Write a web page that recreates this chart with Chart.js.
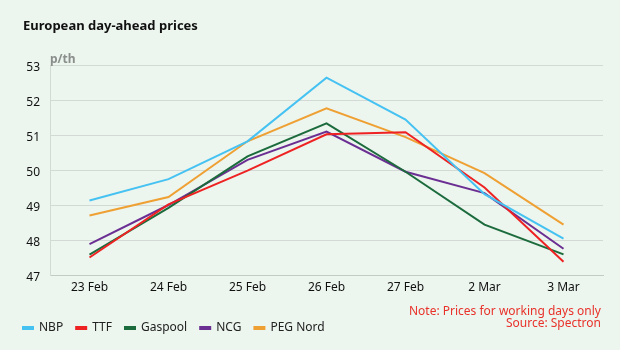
<!DOCTYPE html>
<html>
<head>
<meta charset="utf-8">
<script src="https://cdn.jsdelivr.net/npm/chart.js@4"></script>
<style>
  html, body { margin: 0; padding: 0; background: #ecf5ee; }
  #wrap { position: relative; width: 620px; height: 350px; background: #ecf5ee; font-family: "Noto Sans", "Open Sans", sans-serif; }
  #title { position: absolute; left: 23px; top: 16px; font-size: 13px; font-weight: bold; color: #111; }
  #unit { position: absolute; left: 50px; top: 50px; font-size: 12px; font-weight: bold; color: #8a8f8c; }
  #note { position: absolute; right: 19px; top: 305px; font-size: 12px; color: #e8322a; text-align: right; line-height: 12px; }
  canvas { position: absolute; left: 0; top: 0; }
</style>
</head>
<body>
<div id="wrap">
  <canvas id="c" width="620" height="350"></canvas>
  <div id="title">European day-ahead prices</div>
  <div id="unit">p/th</div>
  <div id="note">Note: Prices for working days only<br>Source: Spectron</div>
</div>
<script>
const categories = ["23 Feb", "24 Feb", "25 Feb", "26 Feb", "27 Feb", "2 Mar", "3 Mar"];
const nbp      = [49.13, 49.74, 50.82, 52.64, 51.44, 49.31, 48.04];
const ttf      = [47.50, 49.02, 49.98, 51.02, 51.08, 49.50, 47.38];
const gaspool  = [47.58, 48.92, 50.39, 51.33, 49.95, 48.44, 47.59];
const ncg      = [47.88, 49.00, 50.29, 51.10, 49.95, 49.34, 47.75];
const pegNord  = [48.70, 49.23, 50.82, 51.76, 50.94, 49.91, 48.44];
const yTicks   = [47, 48, 49, 50, 51, 52, 53];

function ds(label, data, color) {
  return { label, data, borderColor: color, backgroundColor: color, borderWidth: 2,
           pointRadius: 0, pointHoverRadius: 0, tension: 0, fill: false };
}

new Chart(document.getElementById('c'), {
  type: 'line',
  data: {
    labels: categories,
    datasets: [
      ds('NBP', nbp, '#45c2f2'),
      ds('TTF', ttf, '#ee2222'),
      ds('Gaspool', gaspool, '#1b6b3c'),
      ds('NCG', ncg, '#6b2e92'),
      ds('PEG Nord', pegNord, '#efa033')
    ]
  },
  options: {
    responsive: false,
    animation: false,
    layout: { padding: { left: 10, right: 17, top: 65, bottom: 6 } },
    plugins: {
      tooltip: { enabled: false },
      legend: {
        position: 'bottom',
        align: 'start',
        labels: {
          boxWidth: 10, boxHeight: 2, padding: 13,
          color: '#222',
          font: { family: '"Noto Sans", "Open Sans", sans-serif', size: 12 }
        }
      }
    },
    scales: {
      x: {
        offset: true,
        grid: { display: false, drawTicks: false },
        border: { display: true, color: '#c4cac6', width: 1 },
        ticks: { color: '#111', padding: 5, font: { family: '"Noto Sans", "Open Sans", sans-serif', size: 12 } },
        afterFit: (s) => { s.height = 34; }
      },
      y: {
        min: 47, max: 53,
        afterBuildTicks: (s) => { s.ticks = yTicks.map(v => ({ value: v })); },
        grid: { color: '#d3dad6', drawTicks: false },
        border: { display: true, color: '#d3dad6' },
        ticks: { color: '#111', padding: 10, labelOffset: 3, font: { family: '"Noto Sans", "Open Sans", sans-serif', size: 12 } },
        afterFit: (s) => { s.width = 40; }
      }
    }
  }
});
</script>
</body>
</html>
